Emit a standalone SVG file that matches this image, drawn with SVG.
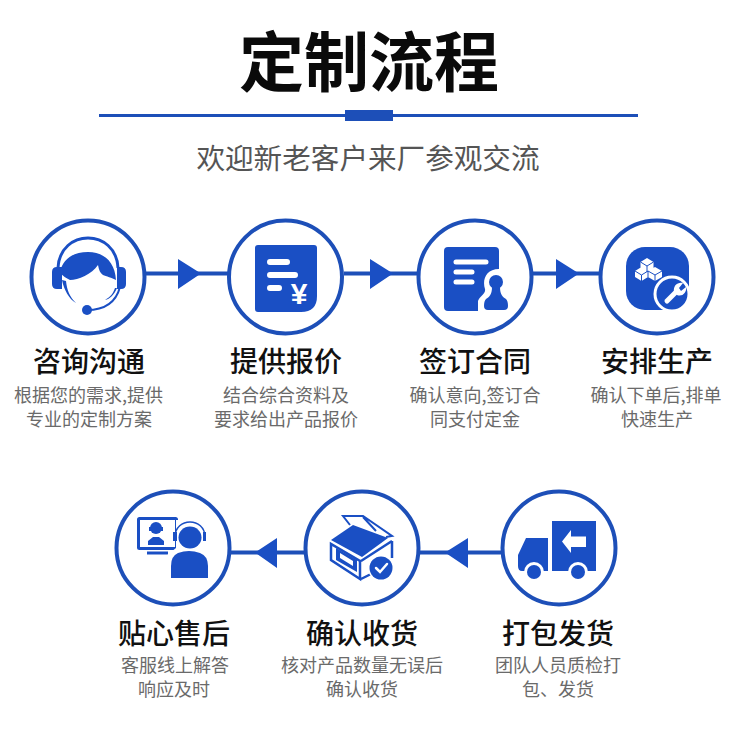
<svg xmlns="http://www.w3.org/2000/svg" width="735" height="735" viewBox="0 0 735 735">
<style>
.t{font-family:"Noto Sans CJK SC","Noto Sans",sans-serif;text-anchor:middle}
.h{font-size:28px;font-weight:500;fill:#111}
.d{font-size:18px;fill:#6a6a6a}
.ring{fill:#fff;stroke:#1d4fb8;stroke-width:4}
.b{fill:#1a4fc4}
.w{fill:#fff}
.wl{fill:none;stroke:#fff;stroke-linecap:round}
.line{stroke:#1d4fb8;stroke-width:4;fill:none}
.bl{fill:none;stroke:#1a4fc4}
</style>
<rect width="735" height="735" fill="#fff"/>
<g id="header">
<text class="t" x="369" y="86" font-size="65" font-weight="700" fill="#0a0a0a">定制流程</text>
<rect x="99" y="114" width="539" height="3" fill="#1d4fb8"/>
<rect x="345" y="110" width="48" height="11" fill="#1d4fb8"/>
<text class="t" x="368" y="169" font-size="28.600" fill="#555">欢迎新老客户来厂参观交流</text>
</g>
<g id="connectors">
<path class="line" d="M146 273.500H228M344 273.500H417M533 273.500H599M231 552.500H304M420 552.500H501"/>
<path class="b" d="M178 259V289L201 273.500ZM370 259V289L393 273.500ZM556 259V289L579 273.500ZM277 538V568L255 552.500ZM468 538V568L445 552.500Z"/>
</g>
<g id="node-1">
<circle class="ring" cx="88" cy="277" r="56.500"/>
<path class="bl" stroke-width="3" d="M58 268C60 228 116 228 118 268"/>
<path class="b" d="M57 267H62V289H57Q52 289 52 284V272Q52 267 57 267ZM117 267H121Q126 267 126 272V284Q126 289 121 289H117Z"/>
<path class="b" d="M60 273C62 260 72 252 88 252C104 252 115 262 116 280C112 278 106 276 103 275C100 273 99 270 98 265C92 274 78 280 70 280C66 278 63 276 60 273Z"/>
<path class="b" d="M66 281C67 291 70 297 76 303C69 299 64 290 62 280ZM115 288C113 294 110 297 105 300C110 299 114 295 117 288Z"/>
<path class="bl" stroke-width="2" d="M87 310C100 310 115 306 120 287"/>
<circle class="b" cx="87" cy="310" r="5"/>
<text class="t h" x="89" y="372">咨询沟通</text>
<text class="t d" x="88.500" y="402">根据您的需求,提供</text>
<text class="t d" x="89" y="426">专业的定制方案</text>
</g>
<g id="node-2">
<circle class="ring" cx="285.500" cy="277" r="56.500"/>
<path class="b" d="M258 245H314Q317 245 317 248V296Q317 312 301 312H258Q255 312 255 309V248Q255 245 258 245Z"/>
<path class="wl" stroke-width="6" d="M270 262H287M270 275H295M270 288H279"/>
<text x="299" y="304" font-family="Liberation Sans,sans-serif" font-size="30" font-weight="700" fill="#fff" text-anchor="middle">¥</text>
<text class="t h" x="286" y="372">提供报价</text>
<text class="t d" x="286" y="402">结合综合资料及</text>
<text class="t d" x="286" y="426">要求给出产品报价</text>
</g>
<g id="node-3">
<circle class="ring" cx="475" cy="277" r="56.500"/>
<rect class="b" x="444" y="247" width="55" height="64" rx="4"/>
<path class="w" d="M499 269C486 269 482 280 485 289C486 294 480 296 478 301L478 312H512V269Z"/>
<path class="wl" stroke-width="5" d="M456 262H486M456 272H472M456 282H472"/>
<circle class="b" cx="496" cy="282" r="7"/>
<path class="b" d="M492 287H500C500 295 503 297 506 299Q508 301 508 306Q508 310 504 310H488Q484 310 484 306Q484 301 486 299C489 297 492 295 492 287Z"/>
<text class="t h" x="475" y="372">签订合同</text>
<text class="t d" x="475" y="402">确认意向,签订合</text>
<text class="t d" x="475" y="426">同支付定金</text>
</g>
<g id="node-4">
<circle class="ring" cx="657" cy="277" r="56.500"/>
<rect class="b" x="626" y="247" width="63" height="63" rx="19"/>
<path class="w" d="M640.500 262L647 258L653.500 262V268L647 272L640.500 268ZM635 271L641.500 267L648 271V277L641.500 281L635 277ZM648 271L655 267L662 271V277L655 281L648 277Z"/>
<path d="M640.500 262L647 266L653.500 262M647 266V272M635 271L641.500 275L648 271L655 275L662 271M641.500 275V281M655 275V281M648 271V277" fill="none" stroke="#1a4fc4" stroke-width="1"/>
<circle class="b" cx="672" cy="294" r="17" stroke="#fff" stroke-width="3"/>
<path class="wl" stroke-width="5" d="M667 301L677 291"/>
<path class="w" d="M674 292C673 286 677 282 683 283L679 288L681 291L686 287C687 293 682 297 677 295Z"/>
<text class="t h" x="657" y="372">安排生产</text>
<text class="t d" x="656" y="402">确认下单后,排单</text>
<text class="t d" x="657" y="426">快速生产</text>
</g>
<g id="node-5">
<circle class="ring" cx="173" cy="548" r="56.500"/>
<rect class="bl" stroke-width="3" x="138.500" y="518.500" width="38" height="30" rx="1"/>
<path class="bl" stroke-width="3" d="M147 553H168"/>
<circle class="b" cx="156" cy="528" r="6"/>
<path class="b" d="M149 527H163V531H149ZM148 545V541L153 537H159L164 541V545Z"/>
<path class="w" d="M176 520H208V582H166V556L176 548Z"/>
<ellipse class="b" cx="190" cy="537.500" rx="11.500" ry="11"/>
<path class="bl" stroke-width="1.500" d="M175 537C175 517 205 517 205 537"/>
<path class="b" d="M173 532H177V541H173ZM203 532H206V541H203Z"/>
<path class="b" d="M178 553Q189 549 200 553Q208 556 208 566V578H171V566Q171 556 178 553Z"/>
<text class="t h" x="174" y="644">贴心售后</text>
<text class="t d" x="175" y="672">客服线上解答</text>
<text class="t d" x="174" y="696">响应及时</text>
</g>
<g id="node-6">
<circle class="ring" cx="362" cy="548" r="56.500"/>
<path class="b" d="M331 540L353 525L388 538L362 557Z"/>
<path class="bl" stroke-width="2" d="M350 525L343 516H363L392 536L386 537M363 517L376 531"/>
<path class="bl" stroke-width="2.500" d="M331 544V560L360 579V561L331 544ZM392 541V558M361 579L371 574M361 561L392 541"/>
<path class="b" d="M336 548L357 560V572L336 560Z"/>
<path class="w" d="M340 553L353 561V566L340 558Z"/>
<circle class="w" cx="381" cy="568" r="13"/>
<circle class="b" cx="381" cy="568" r="11.500"/>
<path class="wl" stroke-width="2.500" d="M376 568L380 572L387 564"/>
<text class="t h" x="362" y="644">确认收货</text>
<text class="t d" x="362" y="672">核对产品数量无误后</text>
<text class="t d" x="362" y="696">确认收货</text>
</g>
<g id="node-7">
<circle class="ring" cx="559" cy="548" r="56.500"/>
<path class="b" d="M552 521H596V571H552ZM526 538H548V571H522Q518 571 518 566V555Z"/>
<circle class="w" cx="534" cy="572" r="10"/><circle class="w" cx="578" cy="572" r="10"/>
<circle class="b" cx="534" cy="572" r="7"/><circle class="b" cx="578" cy="572" r="7"/>
<path class="w" d="M562 541.500L571 530V536.500H586V547H571V553Z"/>
<text class="t h" x="558" y="644">打包发货</text>
<text class="t d" x="558" y="672">团队人员质检打</text>
<text class="t d" x="558" y="696">包、发货</text>
</g>
</svg>
